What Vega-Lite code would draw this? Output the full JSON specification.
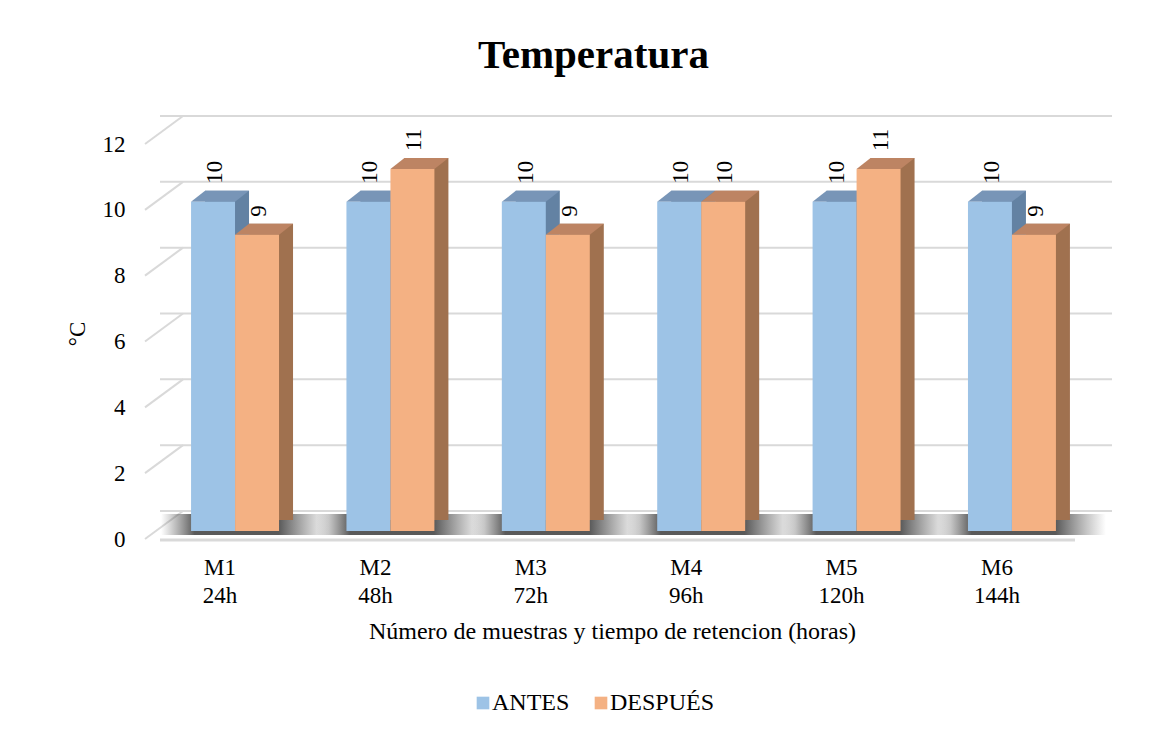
{
  "$schema": "https://vega.github.io/schema/vega-lite/v6.json",
  "autosize": {"type": "none"},
  "width": 927,
  "height": 395,
  "padding": {"left": 160, "top": 136, "right": 89, "bottom": 206},
  "background": "white",
  "config": {"font": "Liberation Serif", "view": {"stroke": null}},
  "title": {"text": "Temperatura", "font": "Liberation Serif", "fontSize": 41, "fontWeight": "bold", "color": "#000000", "anchor": "middle", "dx": -30, "offset": 38},
  "datasets": {
    "temps": [
      {"muestra": "M1 24h", "serie": "ANTES", "valor": 10},
      {"muestra": "M1 24h", "serie": "DESPUÉS", "valor": 9},
      {"muestra": "M2 48h", "serie": "ANTES", "valor": 10},
      {"muestra": "M2 48h", "serie": "DESPUÉS", "valor": 11},
      {"muestra": "M3 72h", "serie": "ANTES", "valor": 10},
      {"muestra": "M3 72h", "serie": "DESPUÉS", "valor": 9},
      {"muestra": "M4 96h", "serie": "ANTES", "valor": 10},
      {"muestra": "M4 96h", "serie": "DESPUÉS", "valor": 10},
      {"muestra": "M5 120h", "serie": "ANTES", "valor": 10},
      {"muestra": "M5 120h", "serie": "DESPUÉS", "valor": 11},
      {"muestra": "M6 144h", "serie": "ANTES", "valor": 10},
      {"muestra": "M6 144h", "serie": "DESPUÉS", "valor": 9}
    ],
    "grid": [{"v": 0}, {"v": 2}, {"v": 4}, {"v": 6}, {"v": 8}, {"v": 10}, {"v": 12}]
  },
  "layer": [
    {
      "data": {"name": "grid"},
      "mark": {"type": "rule", "color": "#D9D9D9", "strokeWidth": 2, "xOffset": 25, "yOffset": -20},
      "encoding": {
        "y": {"field": "v", "type": "quantitative", "scale": {"domain": [0, 12]},
          "axis": {"values": [0, 2, 4, 6, 8, 10, 12], "title": "°C", "titleFont": "Liberation Serif", "titleFontSize": 23, "titleFontWeight": "normal", "titleColor": "#000000", "titlePadding": 13,
            "labelFont": "Liberation Serif", "labelFontSize": 23, "labelColor": "#000000", "labelPadding": 35, "labelOffset": 8,
            "ticks": false, "domain": false, "grid": false}}
      }
    },
    {
      "data": {"name": "grid"},
      "mark": {"type": "rule", "color": "#D9D9D9", "strokeWidth": 2, "xOffset": -15, "x2Offset": 23, "yOffset": 8, "y2Offset": -20},
      "encoding": {
        "x": {"value": 0},
        "x2": {"value": 0},
        "y": {"field": "v", "type": "quantitative"},
        "y2": {"field": "v"}
      }
    },
    {
      "data": {"name": "grid"},
      "transform": [{"filter": "datum.v == 0"}],
      "mark": {"type": "rule", "color": "#D9D9D9", "strokeWidth": 3, "xOffset": -12, "yOffset": 9},
      "encoding": {
        "y": {"field": "v", "type": "quantitative"}
      }
    },
    {
      "data": {"name": "temps"},
      "transform": [{"filter": "datum.serie == 'ANTES'"}],
      "mark": {"type": "bar", "width": 168, "xOffset": 10, "yOffset": -17, "y2Offset": 4,
        "fill": {"gradient": "linear", "x1": 0, "y1": 0, "x2": 1, "y2": 0, "stops": [
          {"offset": 0, "color": "rgba(90,90,90,0)"},
          {"offset": 0.2, "color": "rgba(60,60,60,0.85)"},
          {"offset": 0.7, "color": "rgba(60,60,60,0.85)"},
          {"offset": 1, "color": "rgba(90,90,90,0)"}
        ]}},
      "encoding": {
        "x": {"field": "muestra", "type": "nominal", "sort": null,
          "scale": {"paddingInner": 0.434, "paddingOuter": 0.2},
          "axis": {"title": "Número de muestras y tiempo de retencion (horas)", "titleFont": "Liberation Serif", "titleFontSize": 24, "titleFontWeight": "normal", "titleColor": "#000000", "titlePadding": 12, "titleX": 452,
            "labelExpr": "split(datum.label, ' ')", "labelFont": "Liberation Serif", "labelFontSize": 23, "labelColor": "#000000", "labelAngle": 0, "labelOffset": -15, "labelPadding": 25, "labelLineHeight": 28,
            "ticks": false, "domain": false, "grid": false}},
        "y": {"datum": 0, "type": "quantitative"},
        "y2": {"datum": 0}
      }
    },
    {
      "data": {"name": "temps"},
      "transform": [{"filter": "datum.serie == 'ANTES'"}],
      "mark": {"type": "bar", "width": {"band": 0.5}, "xOffset": -8, "yOffset": -11, "y2Offset": -11, "color": "#6382A3"},
      "encoding": {
        "x": {"field": "muestra", "type": "nominal", "sort": null},
        "y": {"field": "valor", "type": "quantitative"}
      }
    },
    {
      "data": {"name": "temps"},
      "transform": [{"filter": "datum.serie == 'DESPUÉS'"}],
      "mark": {"type": "bar", "width": {"band": 0.5}, "xOffset": 36, "yOffset": -11, "y2Offset": -11, "color": "#A0714F"},
      "encoding": {
        "x": {"field": "muestra", "type": "nominal", "sort": null},
        "y": {"field": "valor", "type": "quantitative"}
      }
    },
    {
      "data": {"name": "temps"},
      "transform": [{"filter": "datum.serie == 'ANTES'"}],
      "mark": {"type": "point", "shape": "M -1 0 L 1 0 L 1.636 -0.5 L -0.364 -0.5 Z", "size": 1936, "filled": true, "opacity": 1, "strokeWidth": 0, "color": "#7895B7", "xOffset": -22},
      "encoding": {
        "x": {"field": "muestra", "type": "nominal", "sort": null},
        "y": {"field": "valor", "type": "quantitative"}
      }
    },
    {
      "data": {"name": "temps"},
      "transform": [{"filter": "datum.serie == 'DESPUÉS'"}],
      "mark": {"type": "point", "shape": "M -1 0 L 1 0 L 1.636 -0.5 L -0.364 -0.5 Z", "size": 1936, "filled": true, "opacity": 1, "strokeWidth": 0, "color": "#BD8463", "xOffset": 22},
      "encoding": {
        "x": {"field": "muestra", "type": "nominal", "sort": null},
        "y": {"field": "valor", "type": "quantitative"}
      }
    },
    {
      "data": {"name": "temps"},
      "transform": [{"filter": "datum.serie == 'ANTES'"}],
      "mark": {"type": "bar", "width": {"band": 0.5}, "xOffset": -22},
      "encoding": {
        "x": {"field": "muestra", "type": "nominal", "sort": null},
        "y": {"field": "valor", "type": "quantitative"},
        "color": {"field": "serie", "type": "nominal",
          "scale": {"domain": ["ANTES", "DESPUÉS"], "range": ["#9DC3E6", "#F4B183"]},
          "legend": {"orient": "none", "legendX": 311, "legendY": 555, "direction": "horizontal", "title": null,
            "symbolType": "square", "symbolSize": 160, "symbolStrokeWidth": 0, "symbolOpacity": 1,
            "labelFont": "Liberation Serif", "labelFontSize": 24, "labelColor": "#000000", "labelOffset": -3, "columnPadding": 19}}
      }
    },
    {
      "data": {"name": "temps"},
      "transform": [{"filter": "datum.serie == 'DESPUÉS'"}],
      "mark": {"type": "bar", "width": {"band": 0.5}, "xOffset": 22},
      "encoding": {
        "x": {"field": "muestra", "type": "nominal", "sort": null},
        "y": {"field": "valor", "type": "quantitative"},
        "color": {"field": "serie", "type": "nominal"}
      }
    },
    {
      "data": {"name": "temps"},
      "transform": [{"filter": "datum.serie == 'ANTES'"}],
      "mark": {"type": "text", "angle": 270, "align": "left", "baseline": "middle", "font": "Liberation Serif", "fontSize": 23, "color": "#000000", "xOffset": -20, "yOffset": -18},
      "encoding": {
        "x": {"field": "muestra", "type": "nominal", "sort": null},
        "y": {"field": "valor", "type": "quantitative"},
        "text": {"field": "valor", "type": "quantitative"}
      }
    },
    {
      "data": {"name": "temps"},
      "transform": [{"filter": "datum.serie == 'DESPUÉS'"}],
      "mark": {"type": "text", "angle": 270, "align": "left", "baseline": "middle", "font": "Liberation Serif", "fontSize": 23, "color": "#000000", "xOffset": 24, "yOffset": -18},
      "encoding": {
        "x": {"field": "muestra", "type": "nominal", "sort": null},
        "y": {"field": "valor", "type": "quantitative"},
        "text": {"field": "valor", "type": "quantitative"}
      }
    }
  ]
}
